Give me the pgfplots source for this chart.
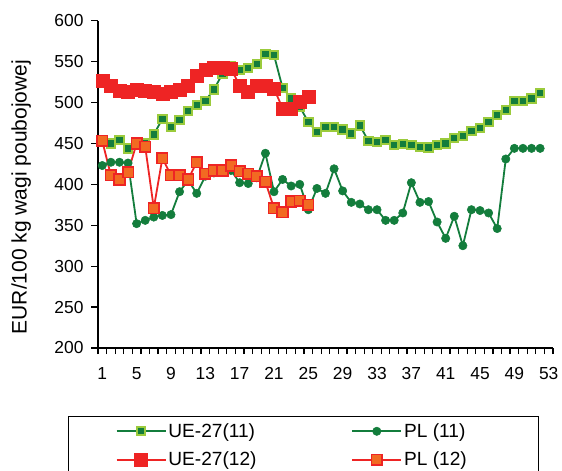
\documentclass[border=0pt]{standalone}
\usepackage{fontspec}
\setmainfont{Liberation Sans}
\usepackage{pgfplots}
\usepackage{pgfplotstable}
\pgfplotsset{compat=1.18}
\definecolor{dkgreen}{HTML}{137D3C}
\definecolor{ltgreen}{HTML}{9BCB3C}
\definecolor{myred}{HTML}{EE2424}
\definecolor{myorange}{HTML}{F26A22}

\pgfplotstableread{
w v
1 452
2 450
3 454
4 444
5 448
6 450
7 461
8 480
9 470
10 479
11 490
12 497
13 502
14 516
15 535
16 545
17 540
18 542
19 547
20 559
21 558
22 518
23 505
24 495
25 476
26 464
27 470
28 470
29 467
30 462
31 472
32 453
33 452
34 454
35 448
36 449
37 448
38 446
39 445
40 448
41 450
42 457
43 459
44 465
45 469
46 476
47 485
48 491
49 502
50 502
51 505
52 512
}\ueA

\pgfplotstableread{
w v
1 423
2 427
3 427
4 426
5 352
6 356
7 360
8 362
9 363
10 391
11 405
12 389
13 410
14 414
15 415
16 417
17 402
18 401
19 408
20 438
21 391
22 406
23 398
24 400
25 369
26 395
27 389
28 419
29 392
30 378
31 376
32 369
33 369
34 356
35 356
36 365
37 402
38 378
39 379
40 354
41 334
42 361
43 325
44 369
45 368
46 365
47 346
48 431
49 444
50 444
51 444
52 444
}\plA

\pgfplotstableread{
w v
1 527
2 520
3 515
4 513
5 516
6 515
7 513
8 511
9 513
10 516
11 521
12 533
13 540
14 543
15 543
16 541
17 521
18 513
19 520
20 521
21 517
22 493
23 492
24 501
25 507
}\ueB

\pgfplotstableread{
w v
1 453
2 411
3 406
4 415
5 450
6 446
7 371
8 432
9 411
10 411
11 406
12 427
13 413
14 417
15 417
16 423
17 416
18 413
19 410
20 403
21 371
22 366
23 379
24 380
25 375
}\plB

\begin{document}
\begin{tikzpicture}[x=1pt,y=1pt]
\begin{axis}[
  at={(98pt,123pt)}, anchor=south west,
  scale only axis, width=455pt, height=327.3pt,
  xmin=0.5, xmax=53.5, ymin=200, ymax=600,
  axis x line=bottom, axis y line=left,
  axis line style={-, line width=1.6pt, black},
  tick align=outside,
  xtick={1,5,...,53},
  major x tick style={draw=none},
  minor xtick={0.5,1.5,...,53.5},
  minor x tick style={line width=1.2pt, black},
  minor tick length=6pt,
  ytick={200,250,...,600},
  major y tick style={line width=1.2pt, black},
  major tick length=7pt,
  tick label style={font=\fontsize{17.4}{20}\selectfont},
  xticklabel style={yshift=-9pt},
  yticklabel style={xshift=-4pt},
  /pgf/number format/assume math mode=true,
  ylabel={EUR/100 kg wagi poubojowej},
  ylabel style={font=\fontsize{21}{24}\selectfont, at={(axis description cs:-0.169,0.461)}, anchor=center},
  legend columns=2,
  legend cell align=left,
  legend style={at={(axis description cs:-0.0659,-0.2078)}, anchor=north west,
    draw=black, line width=1.2pt, inner xsep=47pt, inner ysep=5pt,
    font=\fontsize{19.1}{22}\selectfont, row sep=9pt},
  legend image code/.code={
    \draw[mark repeat=2,mark phase=2,#1] plot coordinates {(0pt,0pt) (24.5pt,0pt) (49pt,0pt)};
  },
]
\addplot[color=dkgreen, line width=1.8pt, mark=square*, mark size=4.2pt,
  mark options={fill=dkgreen, draw=ltgreen, line width=2pt, solid}] table[x=w,y=v] {\ueA};
\addlegendentry{\makebox[181pt][l]{UE-27(11)}}
\addplot[color=dkgreen, line width=1.8pt, mark=*, mark size=4.2pt,
  mark options={fill=dkgreen, draw=dkgreen, line width=0.5pt, solid}] table[x=w,y=v] {\plA};
\addlegendentry{\makebox[85pt][l]{PL (11)}}
\addplot[color=myred, line width=1.8pt, mark=square*, mark size=6.5pt,
  mark options={fill=myred, draw=myred, line width=0.5pt, solid}] table[x=w,y=v] {\ueB};
\addlegendentry{\makebox[181pt][l]{UE-27(12)}}
\addplot[color=myred, line width=1.8pt, mark=square*, mark size=5.3pt,
  mark options={fill=myorange, draw=myred, line width=1.6pt, solid}] table[x=w,y=v] {\plB};
\addlegendentry{\makebox[85pt][l]{PL (12)}}
\end{axis}
\pgfresetboundingbox
\path[use as bounding box] (0,0) rectangle (562pt,471pt);
\end{tikzpicture}
\end{document}
